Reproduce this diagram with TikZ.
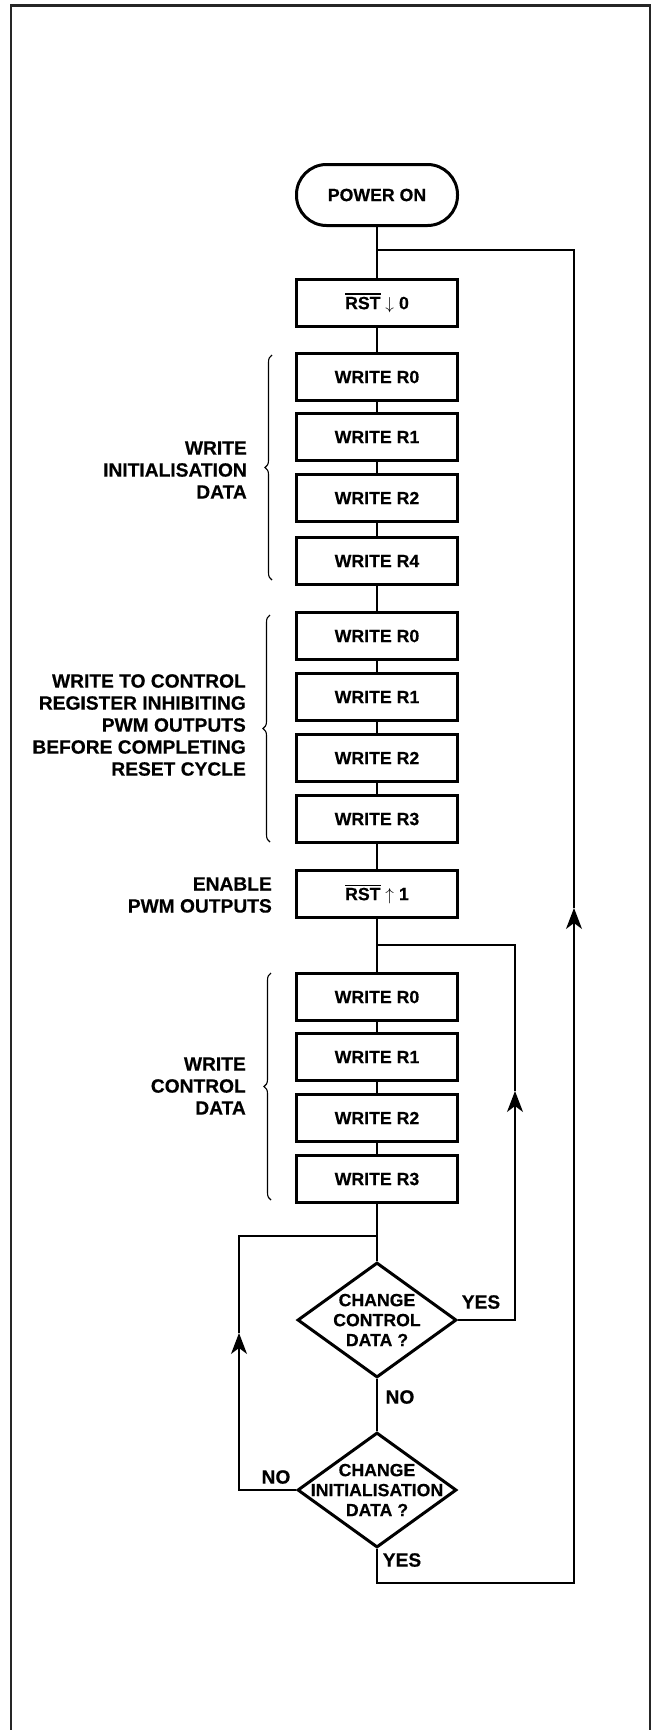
\documentclass[tikz,border=0pt]{standalone}
\usepackage{fontspec}
\setmainfont{Liberation Sans}
\newfontfamily\hvbold[FakeBold=0.4]{Liberation Sans Bold}
\usetikzlibrary{arrows.meta,shapes.geometric,decorations.pathreplacing}
\newcommand{\boxfont}{\fontsize{17.7pt}{20pt}\selectfont\hvbold}
\newcommand{\lblfont}{\fontsize{19.2pt}{22pt}\selectfont\hvbold}
\newcommand{\ovl}[1]{\sbox0{#1}\rlap{\raisebox{\dimexpr\ht0+2pt\relax}{\rule{\wd0}{1.3pt}}}\usebox0}
\begin{document}
\begin{tikzpicture}[x=1pt,y=-1pt,
  box/.style={draw, line width=3pt, minimum width=161pt, minimum height=47pt, inner sep=0pt, font=\boxfont},
  term/.style={draw, line width=3pt, rounded corners=30pt, minimum width=161pt, minimum height=61pt, inner sep=0pt, font=\boxfont},
  dia/.style={draw, diamond, line width=3pt, minimum width=159pt, minimum height=115pt, inner sep=0pt},
  dtxt/.style={font=\boxfont, align=center, inner sep=0pt},
  lbl/.style={font=\lblfont, align=right, inner sep=0pt},
  flow/.style={line width=1.3pt},
  arr/.style={-{Stealth[length=21pt,width=16pt,inset=6pt]}},
  brc/.style={decorate, decoration={brace, amplitude=7pt}, line width=1.1pt}
]
\useasboundingbox (0,0) rectangle (655,1730);
\draw[line width=2.2pt, black!85] (11,1730) -- (11,5.5) -- (650,5.5) -- (650,1730);

% main column
\node[term] (pwr) at (377,195) {POWER ON};
\node[box] (rst0) at (377,303) {\ovl{RST} $\downarrow$ 0};
\node[box] (a0) at (377,377) {WRITE R0};
\node[box] (a1) at (377,437) {WRITE R1};
\node[box] (a2) at (377,498) {WRITE R2};
\node[box] (a4) at (377,561) {WRITE R4};
\node[box] (b0) at (377,636) {WRITE R0};
\node[box] (b1) at (377,697) {WRITE R1};
\node[box] (b2) at (377,758) {WRITE R2};
\node[box] (b3) at (377,819) {WRITE R3};
\node[box] (rst1) at (377,894) {\ovl{RST} $\uparrow$ 1};
\node[box] (c0) at (377,997) {WRITE R0};
\node[box] (c1) at (377,1057) {WRITE R1};
\node[box] (c2) at (377,1118) {WRITE R2};
\node[box] (c3) at (377,1179) {WRITE R3};
\node[dia] (d1) at (377,1320) {};
\node[dtxt] (d1t) at (d1) {CHANGE\\CONTROL\\DATA ?};
\node[dia] (d2) at (377,1490) {};
\node[dtxt] (d2t) at (d2) {CHANGE\\INITIALISATION\\DATA ?};

\draw[flow] (pwr) -- (rst0) -- (a0) -- (a1) -- (a2) -- (a4) -- (b0) -- (b1) -- (b2) -- (b3) -- (rst1) -- (c0) -- (c1) -- (c2) -- (c3) -- (d1) -- (d2);

% loop coordinates
\coordinate (j1) at (377,250);
\coordinate (tr) at (574,250);
\coordinate (ar1) at (574,908);
\coordinate (br) at (574,1583);
\coordinate (j2) at (377,945);
\coordinate (tm) at (515,945);
\coordinate (ar2) at (515,1091);
\coordinate (j3) at (377,1236);
\coordinate (tl) at (239,1236);
\coordinate (ar3) at (239,1333);

\draw[flow,arr] (d2.south) |- (br) -- (ar1);
\draw[flow] (ar1) -- (tr) -- (j1);
\draw[flow,arr] (d1.east) -| (ar2);
\draw[flow] (ar2) -- (tm) -- (j2);
\draw[flow,arr] (d2.west) -| (ar3);
\draw[flow] (ar3) -- (tl) -- (j3);

% decision labels
\node[lbl] (y1) at (481,1302) {YES};
\node[lbl] (n1) at (400,1397) {NO};
\node[lbl] (n2) at (276,1477) {NO};
\node[lbl] (y2) at (402,1560) {YES};

% side labels and braces
\node[lbl, anchor=east] (l1) at (247,470) {WRITE\\INITIALISATION\\DATA};
\node[lbl, anchor=east] (l2) at (246,725) {WRITE TO CONTROL\\REGISTER INHIBITING\\PWM OUTPUTS\\BEFORE COMPLETING\\RESET CYCLE};
\node[lbl, anchor=east] (l3) at (272,895) {ENABLE\\PWM OUTPUTS};
\node[lbl, anchor=east] (l4) at (246,1086) {WRITE\\CONTROL\\DATA};

\coordinate (bA1) at (272,580); \coordinate (bA2) at (272,355);
\coordinate (bB1) at (270,842); \coordinate (bB2) at (270,615);
\coordinate (bC1) at (271,1200); \coordinate (bC2) at (271,973);
\draw[brc] (bA1) -- (bA2);
\draw[brc] (bB1) -- (bB2);
\draw[brc] (bC1) -- (bC2);
\end{tikzpicture}
\end{document}
